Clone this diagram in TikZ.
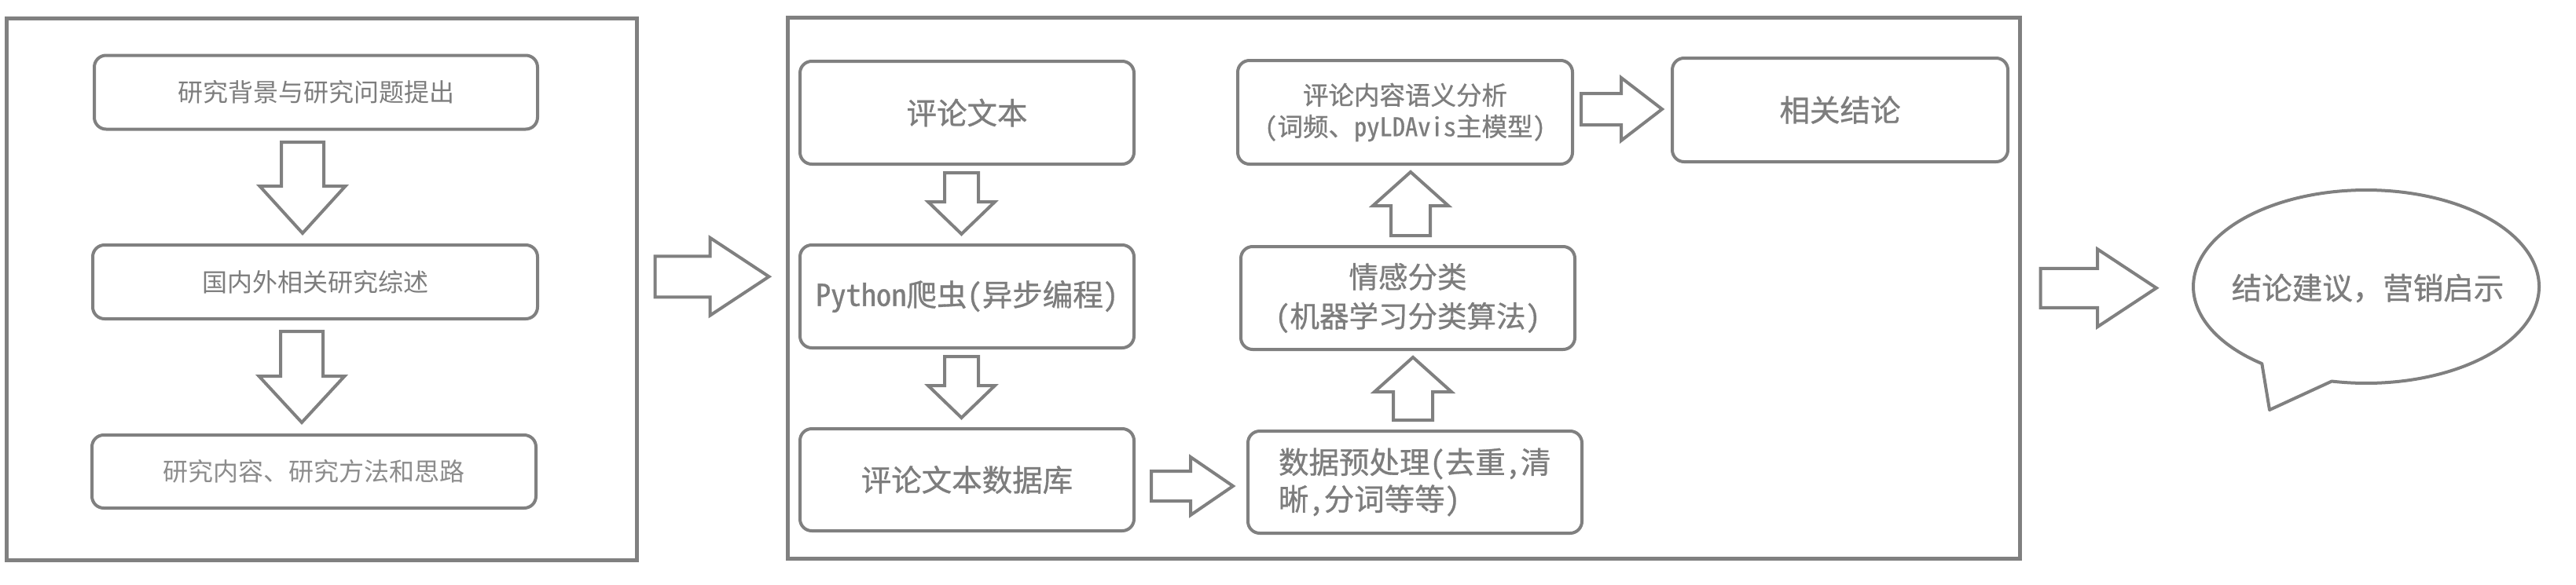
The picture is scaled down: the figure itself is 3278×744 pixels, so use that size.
\documentclass[tikz,border=0pt]{standalone}
\usepackage{fontspec}
\setmainfont{Noto Sans CJK SC}
\newfontfamily\mfont[FakeBold=0.8]{Noto Sans CJK SC}
\newfontfamily\mhw[FakeBold=0.8,RawFeature=+hwid]{Noto Sans CJK SC}
\usetikzlibrary{calc}
\definecolor{lg}{RGB}{128,128,128}
\definecolor{tg}{RGB}{125,125,125}
\definecolor{tl}{RGB}{140,140,140}
\newcommand\fa{\fontsize{32}{38}\selectfont}
\newcommand\fb{\mfont\fontsize{38.5}{42}\selectfont}
\newcommand\hw[1]{{\mhw #1}}
% block arrows: #1 start, #2 tip, #3 shaft half width, #4 head half width, #5 head length
\newcommand\blkdown[5]{\draw[blk] let \p1=(#1), \p2=(#2) in
  (\x1-#3pt,\y1) -- (\x1-#3pt,\y2+#5pt) -- (\x1-#4pt,\y2+#5pt) -- (\x1,\y2) --
  (\x1+#4pt,\y2+#5pt) -- (\x1+#3pt,\y2+#5pt) -- (\x1+#3pt,\y1) -- cycle;}
\newcommand\blkup[5]{\draw[blk] let \p1=(#1), \p2=(#2) in
  (\x1-#3pt,\y1) -- (\x1-#3pt,\y2-#5pt) -- (\x1-#4pt,\y2-#5pt) -- (\x1,\y2) --
  (\x1+#4pt,\y2-#5pt) -- (\x1+#3pt,\y2-#5pt) -- (\x1+#3pt,\y1) -- cycle;}
\newcommand\blkright[5]{\draw[blk] let \p1=(#1), \p2=(#2) in
  (\x1,\y1-#3pt) -- (\x2-#5pt,\y1-#3pt) -- (\x2-#5pt,\y1-#4pt) -- (\x2,\y1) --
  (\x2-#5pt,\y1+#4pt) -- (\x2-#5pt,\y1+#3pt) -- (\x1,\y1+#3pt) -- cycle;}
\begin{document}
\begin{tikzpicture}[x=1pt,y=-1pt,
  outerbox/.style={draw=lg, line width=5pt, inner sep=0pt, fill=none},
  rbox/.style={draw=lg, line width=4pt, rounded corners=15pt, inner sep=0pt, text=tg},
  blk/.style={draw=lg, line width=4pt, line join=miter, fill=white},
  bub/.style={draw=lg, line width=4pt, line join=round, fill=white}]
\useasboundingbox (0,0) rectangle (3278,744);
\fill[white] (0,0) rectangle (3278,744);

% outer frames
\node[outerbox, minimum width=802pt, minimum height=690.5pt] (Lout) at (409.5,368.25) {};
\node[outerbox, minimum width=1568.5pt, minimum height=689.5pt] (Mout) at (1786.25,366.75) {};

% left column
\node[rbox, font=\fa, minimum width=564pt, minimum height=94pt] (L1) at (402,117.5) {研究背景与研究问题提出};
\node[rbox, font=\fa, minimum width=566pt, minimum height=94pt] (L2) at (401,359) {国内外相关研究综述};
\node[rbox, font=\fa, text=tl, minimum width=565pt, minimum height=93pt] (L3) at (399.5,600.5) {研究内容、研究方法和思路};

% middle column
\node[rbox, font=\fb, minimum width=425pt, minimum height=131pt] (M1) at (1230.5,143.5) {评论文本};
\node[rbox, font=\fb, minimum width=425pt, minimum height=131pt] (M2) at (1230.5,377.5) {\hw{Python}爬虫\hw{(}异步编程\hw{)}};
\node[rbox, font=\fb, minimum width=425pt, minimum height=130pt] (M3) at (1230.5,611) {评论文本数据库};

% right column
\node[rbox, font=\mfont\fontsize{32.5}{40}\selectfont, align=center, minimum width=426pt, minimum height=132pt] (R1) at (1788,143) {评论内容语义分析\\\hw{(}词频、\hw{pyLDAvis}主模型\hw{)}};
\node[rbox, font=\mfont\fontsize{37.5}{50}\selectfont, align=center, minimum width=425pt, minimum height=131pt] (R2) at (1791.5,379.5) {情感分类\\\hw{(}机器学习分类算法\hw{)}};
\node[rbox, font=\mfont\fontsize{38.5}{47}\selectfont, align=left, text width=347pt, inner xsep=39pt, minimum width=425pt, minimum height=130pt] (R3) at (1800.5,614) {数据预处理\hw{(}去重\hw{,}清\\晰\hw{,}分词等等\hw{)}};
\node[rbox, font=\fb, minimum width=427pt, minimum height=132pt] (R4) at (2341.5,140) {相关结论};

% speech bubble
\draw[bub] plot[domain=101.5:-232.9, samples=240] ({3011+220*cos(\x)},{365+123*sin(\x)}) -- (2888,522) -- cycle;
\node[font=\fb, text=tg, inner sep=0pt] (bub) at (3013,367) {结论建议，营销启示};
\coordinate (bubL) at (2791,365);

% arrows in left column
\blkdown{$(L1.south)+(-17,14.5)$}{$(L2.north)+(-17,-13)$}{27}{54.5}{60}
\blkdown{$(L2.south)+(-17,14)$}{$(L3.north)+(-16,-14)$}{27}{54.5}{59}

% arrows in middle column
\blkdown{$(M1.south)+(-7,9)$}{$(M2.north)+(-7,-12)$}{21.5}{42.5}{41}
\blkdown{$(M2.south)+(-7,9)$}{$(M3.north)+(-7,-12)$}{21.5}{42.5}{41}

% arrows in right column
\blkup{$(R2.north)+(3.5,-12)$}{$(R1.south)+(3.5,8)$}{25}{48}{43}
\blkup{$(R3.north)+(-2.5,-12)$}{$(R2.south)+(-2.5,8)$}{25}{49}{44}

% horizontal arrows
\blkright{$(M3.east)+(20,8)$}{$(R3.west)+(-17,5)$}{19}{37}{54}
\blkright{$(R1.east)+(9,-4)$}{$(R4.west)+(-11,-1)$}{20}{40}{52}
\blkright{$(Lout.east)+(20.5,-16)$}{$(Mout.west)+(-21,-15)$}{26}{49.5}{75}
\blkright{$(Mout.east)+(23.5,0)$}{$(bubL)+(-47,2)$}{25}{49.5}{75}
\end{tikzpicture}
\end{document}
